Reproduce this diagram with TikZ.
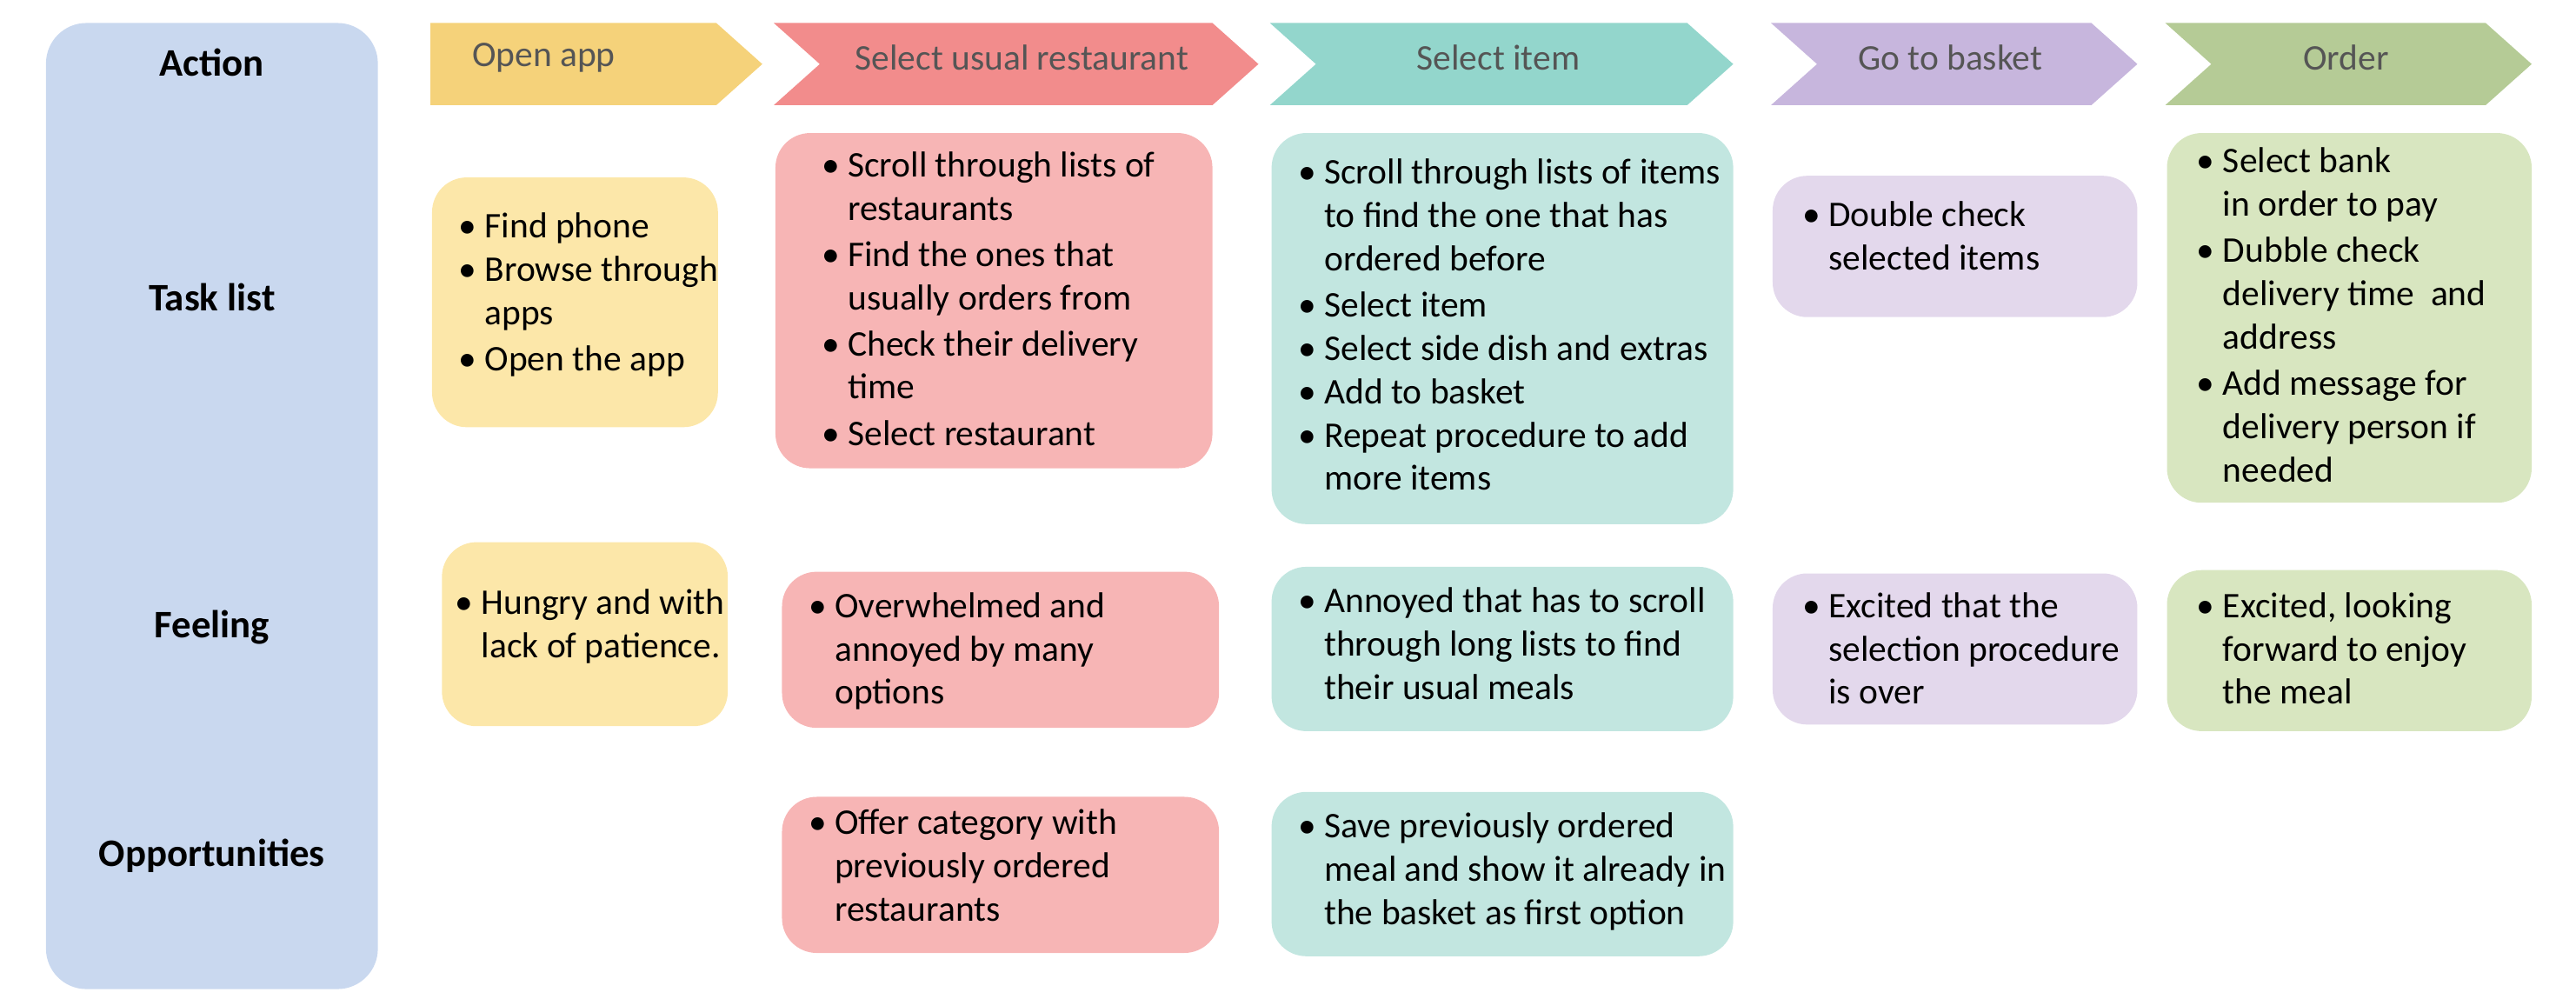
\documentclass[tikz,border=0pt]{standalone}
\usepackage{fontspec}
\setmainfont{Carlito}
\usetikzlibrary{positioning}
\definecolor{side}{HTML}{C9D8EF}
\definecolor{yelA}{HTML}{F5D27A}\definecolor{yelB}{HTML}{FCE7A9}
\definecolor{redA}{HTML}{F28C8C}\definecolor{redB}{HTML}{F7B5B5}
\definecolor{teaA}{HTML}{93D6CC}\definecolor{teaB}{HTML}{C2E6E0}
\definecolor{purA}{HTML}{C7B6DD}\definecolor{purB}{HTML}{E3D8EC}
\definecolor{grnA}{HTML}{B5CB96}\definecolor{grnB}{HTML}{D8E6C0}
\definecolor{txt}{HTML}{555555}
\newcommand{\bi}[1]{\textbullet~\begin{tabular}[t]{@{}l@{}}#1\end{tabular}}
\begin{document}
\begin{tikzpicture}[x=0.02cm,y=-0.02cm,
    font=\fontsize{12.5}{15}\selectfont,
    RowStyle/.style = {font=\fontsize{13.5}{16}\selectfont\bfseries},
    StepStyle/.style = {text=txt, font=\fontsize{12.5}{15}\selectfont},
    BoxStyle/.style = {rounded corners=12pt, align=left, anchor=west}]
    \useasboundingbox (0,0) rectangle (1568,608);
    % side panel
    \fill[side, rounded corners=14pt] (28,14) rectangle (230,602);
    \node[RowStyle] (action) at (129,38) {Action};
    \node[RowStyle] (tasks) at (129,181) {Task list};
    \node[RowStyle] (feel) at (129,382) {Feeling};
    \node[RowStyle] (opp) at (129,521) {Opportunities};

    % steps
    \fill[yelA] (262,14) -- (436,14) -- (464,39) -- (436,64) -- (262,64) -- cycle;
    \node[StepStyle] (s1) at (331,35) {Open app};
    \fill[redA] (471,14) -- (738,14) -- (766,39) -- (738,64) -- (471,64) -- (499,39) -- cycle;
    \node[StepStyle] (s2) at (622,35) {Select usual restaurant};
    \fill[teaA] (773,14) -- (1027,14) -- (1055,39) -- (1027,64) -- (773,64) -- (801,39) -- cycle;
    \node[StepStyle] (s3) at (912,35) {Select item};
    \fill[purA] (1078,14) -- (1273,14) -- (1301,39) -- (1273,64) -- (1078,64) -- (1106,39) -- cycle;
    \node[StepStyle] (s4) at (1187,35) {Go to basket};
    \fill[grnA] (1318,14) -- (1513,14) -- (1541,39) -- (1513,64) -- (1318,64) -- (1346,39) -- cycle;
    \node[StepStyle] (s5) at (1428,35) {Order};

    % task list
    \fill[yelB, rounded corners=12pt] (263,108) rectangle (437,260);
    \node[BoxStyle] (t1) at (273,180) {\bi{Find phone}\\ \bi{Browse through\\ apps}\\ \bi{Open the app}};
    \fill[redB, rounded corners=12pt] (472,81) rectangle (738,285);
    \node[BoxStyle] (t2) at (494,184) {\bi{Scroll through lists of\\ restaurants}\\ \bi{Find the ones that\\ usually orders from}\\ \bi{Check their delivery\\ time}\\ \bi{Select restaurant}};
    \fill[teaB, rounded corners=12pt] (774,81) rectangle (1055,319);
    \node[BoxStyle] (t3) at (784,200) {\bi{Scroll through lists of items\\ to find the one that has\\ ordered before}\\ \bi{Select item}\\ \bi{Select side dish and extras}\\ \bi{Add to basket}\\ \bi{Repeat procedure to add\\ more items}};
    \fill[purB, rounded corners=12pt] (1079,107) rectangle (1301,193);
    \node[BoxStyle] (t4) at (1091,146) {\bi{Double check\\ selected items}};
    \fill[grnB, rounded corners=12pt] (1319,81) rectangle (1541,306);
    \node[BoxStyle] (t5) at (1331,194) {\bi{Select bank\\ in order to pay}\\ \bi{Dubble check\\ delivery time~ and\\ address}\\ \bi{Add message for\\ delivery person if\\ needed}};

    % feeling
    \fill[yelB, rounded corners=12pt] (269,330) rectangle (443,442);
    \node[BoxStyle] (f1) at (271,382) {\bi{Hungry and with\\ lack of patience.}};
    \fill[redB, rounded corners=12pt] (476,348) rectangle (742,443);
    \node[BoxStyle] (f2) at (486,397) {\bi{Overwhelmed and\\ annoyed by many\\ options}};
    \fill[teaB, rounded corners=12pt] (774,345) rectangle (1055,445);
    \node[BoxStyle] (f3) at (784,394) {\bi{Annoyed that has to scroll\\ through long lists to find\\ their usual meals}};
    \fill[purB, rounded corners=12pt] (1079,349) rectangle (1301,441);
    \node[BoxStyle] (f4) at (1091,397) {\bi{Excited that the\\ selection procedure\\ is over}};
    \fill[grnB, rounded corners=12pt] (1319,347) rectangle (1541,445);
    \node[BoxStyle] (f5) at (1331,397) {\bi{Excited, looking\\ forward to enjoy\\ the meal}};

    % opportunities
    \fill[redB, rounded corners=12pt] (476,485) rectangle (742,580);
    \node[BoxStyle] (o2) at (486,529) {\bi{Offer category with\\ previously ordered\\ restaurants}};
    \fill[teaB, rounded corners=12pt] (774,482) rectangle (1055,582);
    \node[BoxStyle] (o3) at (784,531) {\bi{Save previously ordered\\ meal and show it already in\\ the basket as first option}};
\end{tikzpicture}
\end{document}
